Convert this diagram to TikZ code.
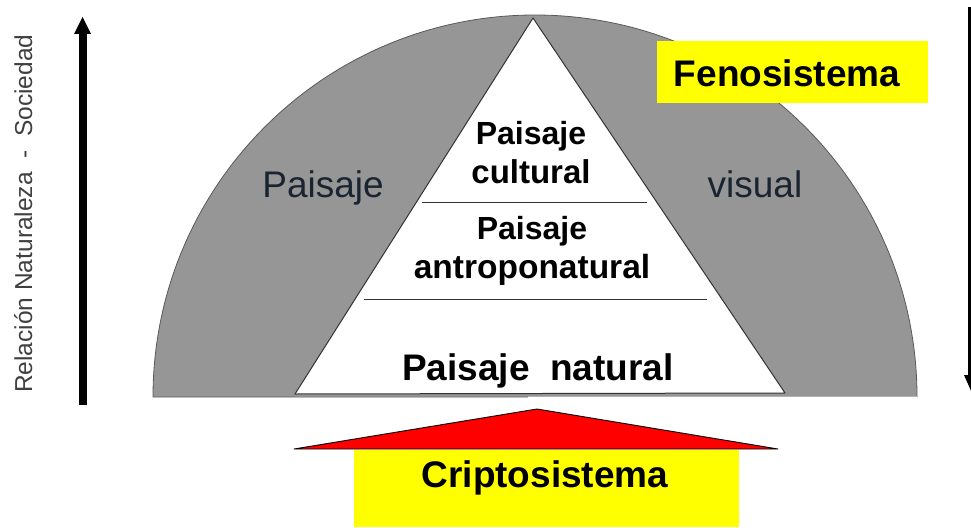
\documentclass[tikz,border=0pt]{standalone}
\usepackage{fontspec}
\setmainfont{Liberation Sans}
\definecolor{domegray}{HTML}{969696}
\definecolor{txtdark}{HTML}{1A2430}
\definecolor{sideink}{HTML}{404040}
\definecolor{boxyellow}{HTML}{FFFF00}
\tikzset{
  px/.style={x=1pt,y=-1pt},
  boldlabel/.style={font=\fontsize{#1}{#1}\selectfont\bfseries,text=black,inner sep=0pt,align=center},
  graylabel/.style={font=\fontsize{37}{37}\selectfont,text=txtdark,inner sep=0pt},
  tierline/.style={draw=black!80,line width=1pt},
  thickarrow/.style={line width=8pt,black}
}
\begin{document}
\begin{tikzpicture}[px]
\useasboundingbox (0,0) rectangle (971,527);
% dome
\fill[domegray,draw=black!65,line width=0.8pt] (153,397) arc[start angle=180,end angle=360,radius=382] -- cycle;
% shadow under the triangle base
\draw[black!45,line width=1pt] (295,396) -- (528,396);
\draw[white,line width=2pt] (528,397.4) -- (917,397.4);
\draw[black!30,line width=0.6pt] (528,396.6) -- (917,396.6);
% triangle
\filldraw[fill=white,draw=black!80,line width=1pt,line join=round] (533,18) -- (785,393) -- (295,394) -- cycle;
% tier lines
\coordinate (t1l) at (422,202); \coordinate (t1r) at (647,202);
\coordinate (t2l) at (364,299); \coordinate (t2r) at (707,299);
\draw[tierline] (t1l) -- (t1r);
\draw[tierline] (t2l) -- (t2r);
% labels
\node[boldlabel=32] (cultural) at (531,153) {Paisaje\\[7pt]\fontsize{33}{33}\selectfont cultural};
\node[boldlabel=32] (antropo) at (532,251) {Paisaje\\[7pt]\fontsize{33.5}{33.5}\selectfont antroponatural};
\node[boldlabel=37,anchor=base] (natural) at (538,380) {Paisaje\ \ natural};
\node[graylabel,anchor=base] (paisaje) at (323,197) {Paisaje};
\node[graylabel,anchor=base] (visual) at (755,197) {visual};
% fenosistema
\node[fill=boxyellow,minimum width=271pt,minimum height=62pt,inner sep=0pt] (feno) at (792,72) {};
\node[boldlabel=37,anchor=base] (fenotxt) at (787,86) {Fenosistema};
% criptosistema
\node[fill=boxyellow,minimum width=385pt,minimum height=77pt,inner sep=0pt,anchor=north] (cripto) at (546,450) {};
\filldraw[fill=red,draw=black,line width=0.9pt,line join=round] (294,449) -- (537,409) -- (778,449) -- cycle;
\node[boldlabel=37,anchor=base] (criptotxt) at (545,487) {Criptosistema};
% side text
\node[font=\fontsize{24.5}{24.5}\selectfont,text=sideink,rotate=90,anchor=base west,inner sep=0pt] (rel) at (32,393) {Relación Naturaleza\ \ -\ \ Sociedad};
% left arrow
\coordinate (la0) at (82.5,405); \coordinate (la1) at (82.5,32);
\draw[thickarrow] (la0) -- (la1);
\fill[black] (82.5,17) -- (91,34) -- (74,34) -- cycle;
% right arrow
\coordinate (ra0) at (971,7); \coordinate (ra1) at (971,378);
\draw[thickarrow,line width=6pt] (ra0) -- (ra1);
\fill[black] (971.5,392) -- (964,375) -- (979,375) -- cycle;
\end{tikzpicture}
\end{document}
